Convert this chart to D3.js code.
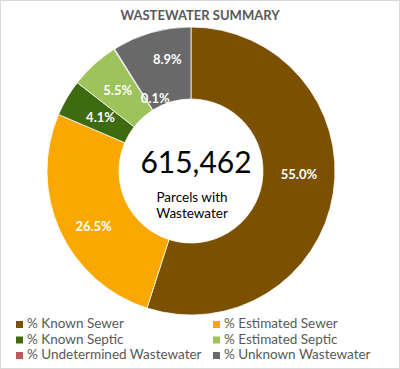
<!DOCTYPE html>
<html>
<head>
<meta charset="utf-8">
<script src="https://cdn.jsdelivr.net/npm/d3@7"></script>
<style>
  html, body { margin: 0; padding: 0; background: #fff; }
  svg { display: block; font-family: Lato, "Open Sans", sans-serif; }
</style>
</head>
<body>
<div id="chart"></div>
<script>
// data
const categories = ['% Known Sewer', '% Estimated Sewer', '% Known Septic',
                    '% Estimated Septic', '% Undetermined Wastewater', '% Unknown Wastewater'];
const shares = [55.0, 26.5, 4.1, 5.5, 0.1, 8.9];
const colors = ['#7b5000', '#f8a800', '#3e6b10', '#9cc45b', '#c0575b', '#696969'];
const totalParcels = 615462;

// label nudges (deg, px) so the small slices don't collide, like Excel does
const labelNudge = [[-7, 0], [-5, 4], [0, -3], [0, 1], [6, -27], [4, 6]];

const width = 400, height = 369;
const cx = 191, cy = 171;
const outerR = 144, innerR = 72;

const svg = d3.select('#chart')
    .append('svg')
    .attr('width', width)
    .attr('height', height);

// frame
svg.append('rect')
    .attr('x', 0.5).attr('y', 0.5)
    .attr('width', width - 1).attr('height', height - 1)
    .attr('fill', '#fff')
    .attr('stroke', '#d9d9d9');

svg.append('text')
    .attr('x', 200).attr('y', 20)
    .attr('text-anchor', 'middle')
    .attr('fill', '#595959')
    .style('font-size', '13px')
    .style('font-weight', 'bold')
    .text('WASTEWATER SUMMARY');

const pie = d3.pie().sort(null).value(d => d);
const arcs = pie(shares);
const arc = d3.arc().innerRadius(innerR).outerRadius(outerR);

const g = svg.append('g').attr('transform', `translate(${cx},${cy})`);

g.selectAll('path')
    .data(arcs)
    .join('path')
    .attr('d', arc)
    .attr('fill', (d, i) => colors[i])
    .attr('stroke', '#fff')
    .attr('stroke-width', 0.75);

// slice labels at the ring's middle
const midR = (innerR + outerR) / 2;
g.selectAll('text.lbl')
    .data(arcs)
    .join('text')
    .attr('class', 'lbl')
    .attr('transform', (d, i) => {
      const a = (d.startAngle + d.endAngle) / 2 + labelNudge[i][0] * Math.PI / 180;
      const r = midR + labelNudge[i][1];
      return `translate(${r * Math.sin(a)},${-r * Math.cos(a)})`;
    })
    .attr('text-anchor', 'middle')
    .attr('dy', '0.35em')
    .attr('fill', '#fff')
    .style('font-size', '13px')
    .style('font-weight', 'bold')
    .text(d => d.value.toFixed(1) + '%');

// centre text
g.append('text')
    .attr('x', 5).attr('y', 2)
    .attr('text-anchor', 'middle')
    .attr('fill', '#000')
    .style('font-size', '30px')
    .text(d3.format(',')(totalParcels));

g.append('text')
    .attr('x', 1).attr('y', 31)
    .attr('text-anchor', 'middle')
    .attr('fill', '#000')
    .style('font-size', '13.5px')
    .text('Parcels with')
    .append('tspan')
    .attr('x', 1)
    .attr('dy', 15.5)
    .text('Wastewater');

// legend, two columns
const legend = svg.append('g')
    .selectAll('g')
    .data(categories)
    .join('g')
    .attr('transform', (d, i) => `translate(${i % 2 ? 213 : 16},${321 + Math.floor(i / 2) * 15.5})`);

legend.append('rect')
    .attr('width', 7).attr('height', 7)
    .attr('fill', (d, i) => colors[i]);

legend.append('text')
    .attr('x', 11).attr('y', 7)
    .attr('fill', '#595959')
    .style('font-size', '13.5px')
    .text(d => d);
</script>
</body>
</html>
